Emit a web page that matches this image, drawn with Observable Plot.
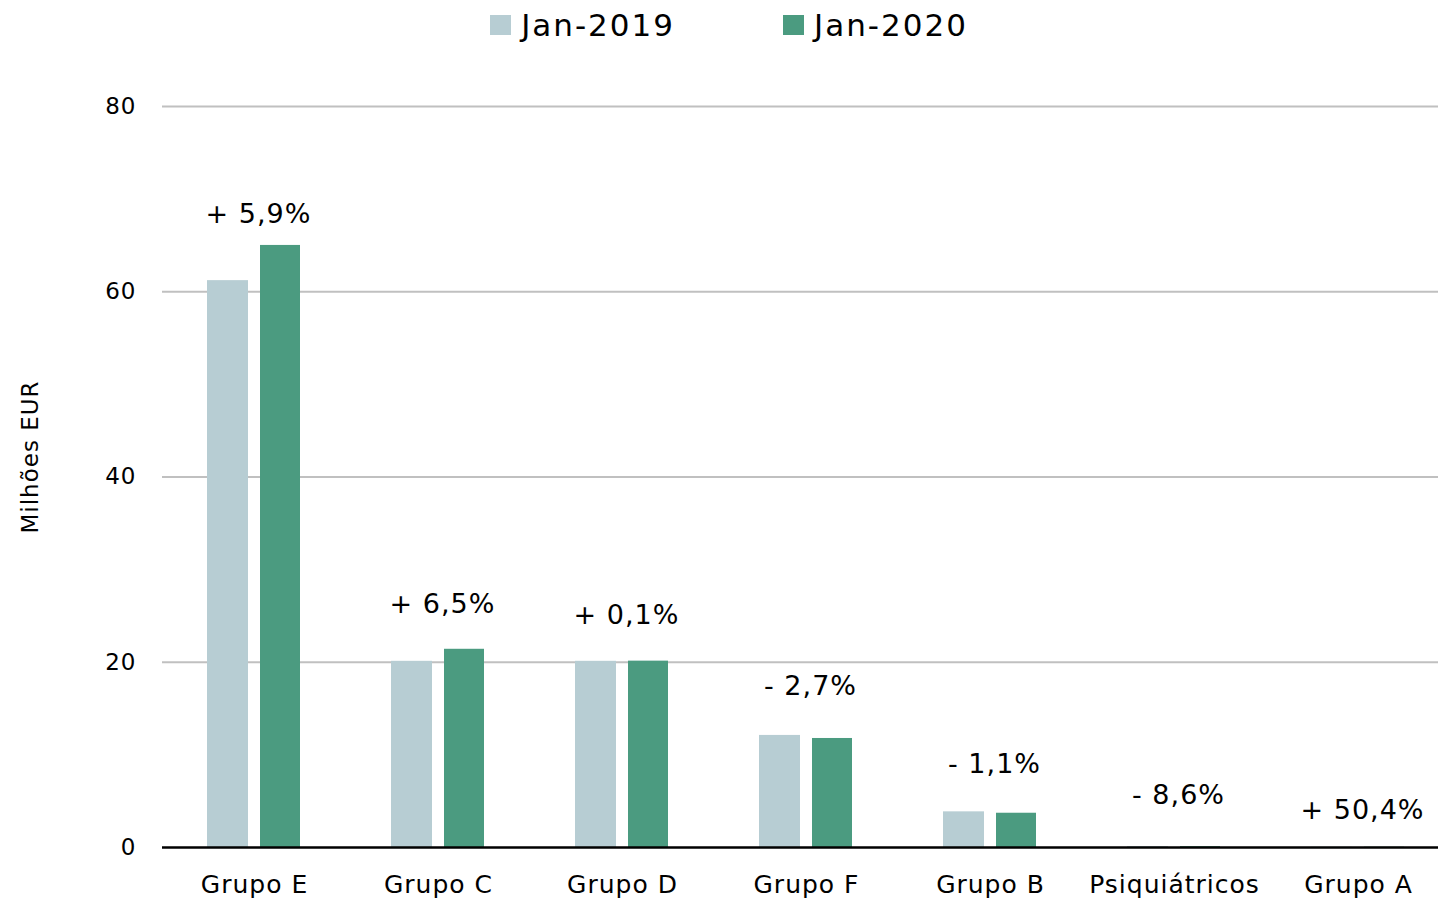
<!DOCTYPE html>
<html><head><meta charset="utf-8">
<script src="https://cdn.jsdelivr.net/npm/d3@7"></script>
<script src="https://cdn.jsdelivr.net/npm/@observablehq/plot@0.6"></script>
<style>
body{margin:0;background:#fff;font-family:"DejaVu Sans",sans-serif;color:#000;}
#legend{height:50px;display:flex;justify-content:center;align-items:center;gap:108px;padding-left:20px;font-size:31px;letter-spacing:2px;}
.item{display:flex;align-items:center;gap:10px;}
.sw{width:21px;height:20px;display:inline-block;}
#chart svg{display:block;}
#chart svg text{letter-spacing:1px;}
</style></head><body>
<div id="legend"></div>
<div id="chart"></div>
<script>
const groups = ["Grupo E","Grupo C","Grupo D","Grupo F","Grupo B","Psiquiátricos","Grupo A"];
const jan2019 = [61.2, 20.1, 20.1, 12.1, 3.85, 0.1, 0.02];
const jan2020 = [65.0, 21.4, 20.12, 11.77, 3.7, 0.09, 0.03];
const changeLabels = ["+ 5,9%","+ 6,5%","+ 0,1%","- 2,7%","- 1,1%","- 8,6%","+ 50,4%"];
const seriesNames = ["Jan-2019","Jan-2020"];
const seriesColors = ["#b7cdd3","#4b9b80"];
const yTicks = [0,20,40,60,80];
const yTitle = "Milhões EUR";

// label anchor levels (data units) as placed in the original chart
const labelLevels = [68.4, 26.2, 25.1, 17.4, 9.0, 5.6, 4.0];

const legend = document.getElementById("legend");
seriesNames.forEach((s,i)=>{
  const it = document.createElement("div"); it.className="item";
  const sw = document.createElement("span"); sw.className="sw"; sw.style.background=seriesColors[i];
  const t = document.createElement("span"); t.textContent=s;
  it.append(sw,t); legend.append(it);
});

const rows2019 = groups.map((g,i)=>({group:g, series:seriesNames[0], value:jan2019[i]}));
const rows2020 = groups.map((g,i)=>({group:g, series:seriesNames[1], value:jan2020[i]}));
const labels = groups.map((g,i)=>({group:g, text:changeLabels[i], y:labelLevels[i]}));

const chart = Plot.plot({
  width: 1438,
  height: 855,
  marginLeft: 162,
  marginRight: 0,
  marginTop: 56,
  marginBottom: 58,
  style: {fontFamily: "'DejaVu Sans', sans-serif", fontSize: "24px", color: "#000", background: "#fff"},
  x: {type: "band", domain: groups, range: [162, 1450], padding: 0, label: null, tickSize: 0, tickPadding: 28},
  y: {domain: [0, 80], ticks: yTicks, label: null, tickSize: 0, tickPadding: 26},
  color: {domain: seriesNames, range: seriesColors},
  marks: [
    Plot.gridY(yTicks.filter(d=>d>0), {stroke: "#c0c0c0", strokeOpacity: 1, strokeWidth: 2}),
    Plot.barY(rows2019, {x: "group", y: "value", fill: "series", insetLeft: 45, insetRight: 98}),
    Plot.barY(rows2020, {x: "group", y: "value", fill: "series", insetLeft: 98, insetRight: 46}),
    Plot.ruleY([0], {stroke: "#000", strokeWidth: 2.5}),
    Plot.text(labels, {x: "group", y: "y", text: "text", dx: 4, fontSize: 27, fill: "#000"}),
    Plot.axisY({ticks: yTicks, tickSize: 0, tickPadding: 26, fontSize: 23, label: null}),
    Plot.axisX({tickSize: 0, tickPadding: 28, fontSize: 25, label: null}),
    Plot.text([yTitle], {frameAnchor: "left", textAnchor: "middle", dx: -132, dy: -20, rotate: -90, fontSize: 23, fill: "#000"})
  ]
});
document.getElementById("chart").append(chart);
</script>
</body></html>
